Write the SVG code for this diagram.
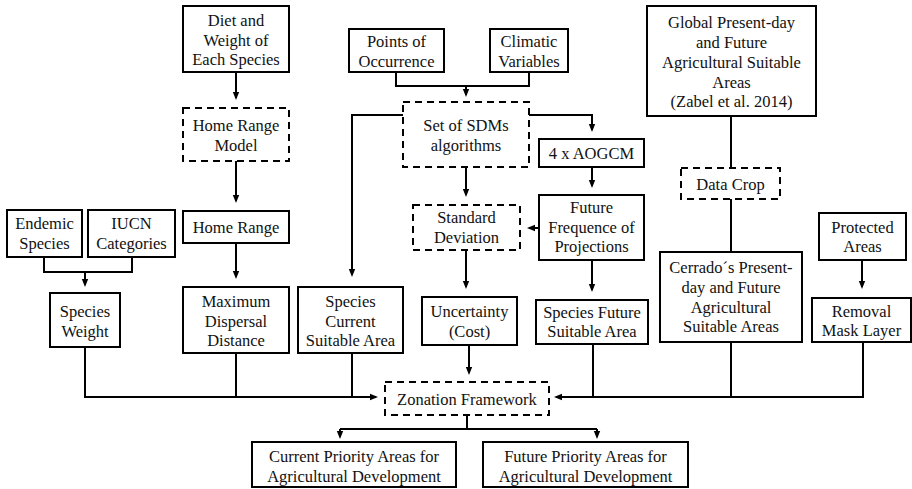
<svg xmlns="http://www.w3.org/2000/svg" width="912" height="489" viewBox="0 0 912 489" font-family="'Liberation Serif', 'DejaVu Serif', serif">
<style>
.b{fill:#fff;stroke:#000;stroke-width:2}
.d{fill:#fff;stroke:#000;stroke-width:2;stroke-dasharray:7 5}
text{font-family:'Liberation Serif','DejaVu Serif',serif;font-size:16.5px;fill:#111;text-anchor:middle}
.c path{fill:none;stroke:#000;stroke-width:2}
.a{marker-end:url(#ah)}
</style>
<defs>
<marker id="ah" markerUnits="userSpaceOnUse" viewBox="0 0 8 8" markerWidth="8" markerHeight="8" refX="6" refY="4" orient="auto">
<path d="M0,0.8 L8,4 L0,7.2 z" fill="#000"/>
</marker>
</defs>
<rect width="912" height="489" fill="#fff"/>
<g class="c" id="connectors">
<path class="a" d="M236,72 V98"/>
<path class="a" d="M236,161 V201"/>
<path class="a" d="M236,243 V277"/>
<path d="M44,257 V272 H132 V257"/>
<path class="a" d="M85,272 V285"/>
<path d="M396,72 V86 H529 V72"/>
<path class="a" d="M466,86 V95"/>
<path class="a" d="M403,115 H352 V275"/>
<path class="a" d="M529,115 H592 V130"/>
<path class="a" d="M592,167 V186"/>
<path class="a" d="M466,167 V195"/>
<path class="a" d="M539,228 H529"/>
<path class="a" d="M466,250 V287"/>
<path class="a" d="M592,260 V290"/>
<path d="M731,116 V168"/>
<path d="M731,199 V252"/>
<path class="a" d="M862,260 V287"/>
<path class="a" d="M85,347 V397 H376"/>
<path d="M236,353 V397"/>
<path d="M352,353 V397"/>
<path class="a" d="M469,345 V373"/>
<path class="a" d="M863,342 V397 H556"/>
<path d="M593,344 V397"/>
<path d="M731,342 V397"/>
<path d="M467,415 V429"/>
<path d="M340,429 H597"/>
<path class="a" d="M340,429 V437"/>
<path class="a" d="M597,429 V437"/>
</g>
<g id="diet"><rect class="b" x="183" y="6" width="106" height="66"/><text x="236" y="26">Diet and</text><text x="236" y="46">Weight of</text><text x="236" y="65">Each Species</text></g>
<g id="homeRangeModel"><rect class="d" x="183" y="108" width="106" height="53"/><text x="236" y="131">Home Range</text><text x="236" y="151">Model</text></g>
<g id="homeRange"><rect class="b" x="183" y="211" width="106" height="32"/><text x="236" y="233">Home Range</text></g>
<g id="maxDispersal"><rect class="b" x="183" y="287" width="106" height="66"/><text x="236" y="307">Maximum</text><text x="236" y="327">Dispersal</text><text x="236" y="346">Distance</text></g>
<g id="endemic"><rect class="b" x="7" y="210" width="75" height="47"/><text x="44.5" y="229">Endemic</text><text x="44.5" y="249">Species</text></g>
<g id="iucn"><rect class="b" x="88" y="210" width="87" height="47"/><text x="131.5" y="229">IUCN</text><text x="131.5" y="249">Categories</text></g>
<g id="speciesWeight"><rect class="b" x="50" y="293" width="70" height="54"/><text x="85" y="317">Species</text><text x="85" y="337">Weight</text></g>
<g id="points"><rect class="b" x="349" y="29" width="95" height="43"/><text x="396.5" y="47">Points of</text><text x="396.5" y="67">Occurrence</text></g>
<g id="climatic"><rect class="b" x="490" y="29" width="78" height="43"/><text x="529" y="47">Climatic</text><text x="529" y="67">Variables</text></g>
<g id="sdms"><rect class="d" x="403" y="102" width="126" height="65"/><text x="466" y="131">Set of SDMs</text><text x="466" y="151">algorithms</text></g>
<g id="aogcm"><rect class="b" x="539" y="139" width="105" height="28"/><text x="591.5" y="159">4 x AOGCM</text></g>
<g id="stdDev"><rect class="d" x="413" y="205" width="107" height="45"/><text x="466.5" y="223">Standard</text><text x="466.5" y="243">Deviation</text></g>
<g id="futureFreq"><rect class="b" x="539" y="195" width="105" height="65"/><text x="591.5" y="213">Future</text><text x="591.5" y="233">Frequence of</text><text x="591.5" y="252">Projections</text></g>
<g id="speciesCurrent"><rect class="b" x="298" y="287" width="105" height="66"/><text x="350.5" y="307">Species</text><text x="350.5" y="327">Current</text><text x="350.5" y="346">Suitable Area</text></g>
<g id="uncertainty"><rect class="b" x="422" y="297" width="95" height="48"/><text x="469.5" y="317">Uncertainty</text><text x="469.5" y="337">(Cost)</text></g>
<g id="speciesFuture"><rect class="b" x="536" y="300" width="112" height="44"/><text x="592" y="318">Species Future</text><text x="592" y="337">Suitable Area</text></g>
<g id="global"><rect class="b" x="647" y="6" width="169" height="110"/><text x="731.5" y="28">Global Present-day</text><text x="731.5" y="48">and Future</text><text x="731.5" y="68">Agricultural Suitable</text><text x="731.5" y="88">Areas</text><text x="731.5" y="107">(Zabel et al. 2014)</text></g>
<g id="dataCrop"><rect class="d" x="681" y="168" width="99" height="31"/><text x="730.5" y="190">Data Crop</text></g>
<g id="cerrado"><rect class="b" x="660" y="252" width="142" height="90"/><text x="731" y="273">Cerrado´s Present-</text><text x="731" y="293">day and Future</text><text x="731" y="313">Agricultural</text><text x="731" y="332">Suitable Areas</text></g>
<g id="protected"><rect class="b" x="819" y="213" width="87" height="47"/><text x="862.5" y="233">Protected</text><text x="862.5" y="252">Areas</text></g>
<g id="removal"><rect class="b" x="812" y="298" width="99" height="44"/><text x="861.5" y="317">Removal</text><text x="861.5" y="336">Mask Layer</text></g>
<g id="zonation"><rect class="d" x="385" y="382" width="164" height="33"/><text x="467" y="405">Zonation Framework</text></g>
<g id="currentPriority"><rect class="b" x="252" y="442" width="204" height="45"/><text x="354" y="462">Current Priority Areas for</text><text x="354" y="482">Agricultural Development</text></g>
<g id="futurePriority"><rect class="b" x="483" y="442" width="205" height="45"/><text x="585.5" y="462">Future Priority Areas for</text><text x="585.5" y="482">Agricultural Development</text></g>
</svg>
